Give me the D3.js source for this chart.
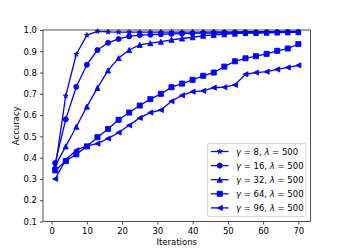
<!DOCTYPE html>
<html>
<head>
<meta charset="utf-8">
<script src="https://cdn.jsdelivr.net/npm/d3@7"></script>
<style>
  body { margin: 0; background: #fff; }
  svg { display: block; font-family: "DejaVu Sans", sans-serif; }
</style>
</head>
<body>
<script>
// iterations sampled every 3 steps
let iters = [1, 4, 7, 10, 13, 16, 19, 22, 25, 28, 31, 34, 37, 40, 43, 46, 49, 52, 55, 58, 61, 64, 67, 70];

let accG8  = [0.35, 0.69, 0.886, 0.976, 0.994, 0.991, 0.99, 0.99, 0.99, 0.99, 0.99, 0.99, 0.99, 0.99, 0.99, 0.991, 0.991, 0.991, 0.992, 0.992, 0.992, 0.993, 0.993, 0.993];
let accG16 = [0.375, 0.58, 0.733, 0.837, 0.906, 0.94, 0.958, 0.97, 0.976, 0.978, 0.98, 0.982, 0.983, 0.984, 0.985, 0.986, 0.987, 0.987, 0.988, 0.988, 0.989, 0.989, 0.99, 0.99];
let accG32 = [0.36, 0.453, 0.545, 0.64, 0.728, 0.81, 0.868, 0.906, 0.93, 0.938, 0.945, 0.954, 0.96, 0.966, 0.973, 0.977, 0.98, 0.983, 0.985, 0.986, 0.987, 0.988, 0.989, 0.99];
let accG64 = [0.34, 0.384, 0.416, 0.453, 0.496, 0.535, 0.578, 0.612, 0.645, 0.675, 0.70, 0.731, 0.748, 0.766, 0.785, 0.80, 0.828, 0.853, 0.867, 0.877, 0.888, 0.902, 0.913, 0.934];
let accG96 = [0.30, 0.39, 0.435, 0.455, 0.466, 0.49, 0.518, 0.552, 0.587, 0.612, 0.624, 0.665, 0.693, 0.71, 0.714, 0.729, 0.731, 0.742, 0.792, 0.80, 0.804, 0.815, 0.824, 0.834];

let gammas = ["8", "16", "32", "64", "96"];
let lambdas = ["500", "500", "500", "500", "500"];
let markers = ["star", "circle", "triUp", "square", "triLeft"];
let allAcc = [accG8, accG16, accG32, accG64, accG96];

let xTicks = [0, 10, 20, 30, 40, 50, 60, 70];
let yTicks = [0.1, 0.2, 0.3, 0.4, 0.5, 0.6, 0.7, 0.8, 0.9, 1.0];

let W = 345, H = 249;
let padL = 43, padR = 310.5, padT = 30, padB = 221.5;
let fs = 8.5;
let blue = "#0000ff";

// marker outline, s = marker size in px
function markerPath(kind, s) {
    let r = s / 2;
    if (kind == "circle") {
        return d3.arc()({ innerRadius: 0, outerRadius: r, startAngle: 0, endAngle: 2 * Math.PI });
    }
    if (kind == "square") {
        return `M${-r},${-r}H${r}V${r}H${-r}Z`;
    }
    if (kind == "triUp") {
        return `M0,${-r}L${r},${r}L${-r},${r}Z`;
    }
    if (kind == "triLeft") {
        return `M${-r},0L${r},${-r}L${r},${r}Z`;
    }
    // five point star
    let pts = [];
    for (let k = 0; k < 10; k++) {
        let rr = k % 2 == 0 ? r : r * 0.381966;
        let a = -Math.PI / 2 + k * Math.PI / 5;
        pts.push([rr * Math.cos(a), rr * Math.sin(a)]);
    }
    return "M" + pts.map(p => p.join(",")).join("L") + "Z";
}

let svg = d3.select("body").append("svg")
    .attr("width", W)
    .attr("height", H);

svg.append("rect").attr("width", W).attr("height", H).attr("fill", "white");

let x = d3.scaleLinear().domain([-2.45, 73.45]).range([padL, padR]);
let y = d3.scaleLinear().domain([0.1, 1.0]).range([padB, padT]);

// axes
let xAxis = svg.append("g")
    .attr("transform", `translate(0,${padB})`)
    .call(d3.axisBottom(x).tickValues(xTicks).tickSize(3).tickPadding(3).tickFormat(d3.format("d")));
let yAxis = svg.append("g")
    .attr("transform", `translate(${padL},0)`)
    .call(d3.axisLeft(y).tickValues(yTicks).tickSize(3).tickPadding(3).tickFormat(d3.format(".1f")));

[xAxis, yAxis].forEach(function (g) {
    g.select(".domain").remove();
    g.selectAll(".tick line").attr("stroke", "black").attr("stroke-width", 0.7);
    g.selectAll(".tick text")
        .attr("fill", "black")
        .style("font-size", fs + "px")
        .style("font-family", "DejaVu Sans");
});

// series
let line = d3.line()
    .x(d => x(d[0]))
    .y(d => y(d[1]));

let plot = svg.append("g");
allAcc.forEach(function (acc, i) {
    let pts = iters.map((it, j) => [it, acc[j]]);
    plot.append("path")
        .attr("d", line(pts))
        .attr("fill", "none")
        .attr("stroke", blue)
        .attr("stroke-width", 1.3)
        .attr("stroke-linejoin", "round");
    plot.selectAll(null)
        .data(pts)
        .enter()
        .append("path")
        .attr("d", markerPath(markers[i], 5.1))
        .attr("transform", d => `translate(${x(d[0])},${y(d[1])})`)
        .attr("fill", blue)
        .attr("stroke", blue)
        .attr("stroke-width", 0.85)
        .attr("stroke-linejoin", "miter");
});

// spines
svg.append("rect")
    .attr("x", padL).attr("y", padT)
    .attr("width", padR - padL).attr("height", padB - padT)
    .attr("fill", "none")
    .attr("stroke", "black")
    .attr("stroke-width", 0.7);

// axis labels
svg.append("text")
    .attr("x", (padL + padR) / 2)
    .attr("y", 245)
    .attr("text-anchor", "middle")
    .style("font-size", fs + "px")
    .text("Iterations");

svg.append("text")
    .attr("transform", `translate(15.5,${(padT + padB) / 2}) rotate(-90)`)
    .attr("text-anchor", "middle")
    .attr("dominant-baseline", "central")
    .style("font-size", fs + "px")
    .text("Accuracy");

// legend
let lgX = 207.5, lgY = 143.5, lgW = 98.5, lgH = 73, rowH = 14.1;
let legend = svg.append("g");
legend.append("rect")
    .attr("x", lgX).attr("y", lgY)
    .attr("width", lgW).attr("height", lgH)
    .attr("rx", 2)
    .attr("fill", "white")
    .attr("fill-opacity", 0.8)
    .attr("stroke", "#cccccc")
    .attr("stroke-width", 0.8);

gammas.forEach(function (g, i) {
    let cy = lgY + 8 + i * rowH;
    legend.append("line")
        .attr("x1", lgX + 3.5).attr("x2", lgX + 21)
        .attr("y1", cy).attr("y2", cy)
        .attr("stroke", blue)
        .attr("stroke-width", 1.3);
    legend.append("path")
        .attr("d", markerPath(markers[i], 5.1))
        .attr("transform", `translate(${lgX + 12.25},${cy})`)
        .attr("fill", blue)
        .attr("stroke", blue)
        .attr("stroke-width", 0.85);
    let t = legend.append("text")
        .attr("x", lgX + 28.5)
        .attr("y", cy + 3)
        .style("font-size", fs + "px")
        .attr("xml:space", "preserve");
    t.append("tspan").style("font-style", "italic").text("γ");
    t.append("tspan").text(" = " + g + ", ");
    t.append("tspan").style("font-style", "italic").text("λ");
    t.append("tspan").text(" = " + lambdas[i]);
});
</script>
</body>
</html>
